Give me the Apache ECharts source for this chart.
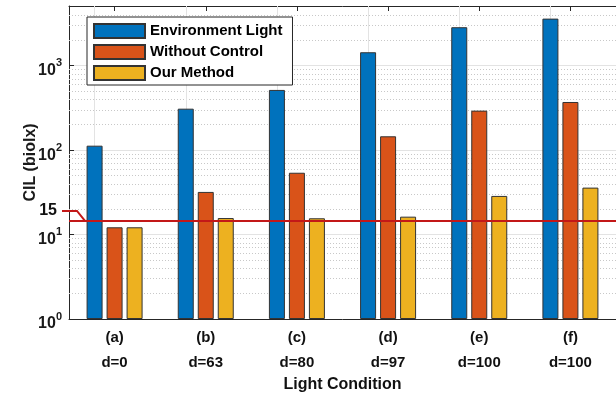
<!DOCTYPE html>
<html>
<head>
<meta charset="utf-8">
<script src="https://cdn.jsdelivr.net/npm/echarts@6/dist/echarts.min.js"></script>
<style>
html,body{margin:0;padding:0;background:#fff;}
#chart{width:616px;height:404px;}
</style>
</head>
<body>
<div id="chart"></div>
<script>
// ---- data ----
const categories = ['(a)', '(b)', '(c)', '(d)', '(e)', '(f)'];
const distances = ['d=0', 'd=63', 'd=80', 'd=97', 'd=100', 'd=100'];
const seriesNames = ['Environment Light', 'Without Control', 'Our Method'];
const environmentLight = [113, 310, 517, 1445, 2860, 3615];
const withoutControl = [12.2, 32, 54, 146, 294, 372];
const ourMethod = [12.2, 15.7, 15.6, 16.3, 28.7, 36];
const thresholdValue = 14.5;
const thresholdLabel = '15';
const yMin = 1;
const yMax = 5100;
const minorGridValues = [2,3,4,5,6,7,8,9,20,30,40,50,60,70,80,90,200,300,400,500,600,700,800,900,2000,3000,4000];

const colors = ['#0072BD', '#D95319', '#EDB120'];
const FONT = '"Liberation Sans", Arial, Helvetica, sans-serif';
const xLabels = categories.map((c, i) => c + '\n' + distances[i]);

const chart = echarts.init(document.getElementById('chart'), null, {renderer: 'canvas'});

function barSeries(name, data, color) {
  return {
    name: name,
    type: 'bar',
    data: data,
    barWidth: 16,
    barGap: '25%',
    z: 3,
    itemStyle: {color: color, borderColor: '#333333', borderWidth: 1}
  };
}

const gridMarkLine = {
  silent: true,
  symbol: 'none',
  label: {show: false},
  animation: false,
  z: 1,
  data: minorGridValues.map(v => ({yAxis: v, lineStyle: {color: '#c8c8c8', width: 1, type: [1, 2]}}))
    .concat(categories.map((c, i) => ({xAxis: i, lineStyle: {color: '#e3e3e3', width: 1, type: 'solid'}})))
};

const firstBar = barSeries(seriesNames[0], environmentLight, colors[0]);
firstBar.markLine = gridMarkLine;

const option = {
  animation: false,
  backgroundColor: '#fff',
  textStyle: {fontFamily: FONT},
  grid: {left: 69, top: 6, width: 552, height: 313, containLabel: false},
  legend: {
    data: seriesNames,
    orient: 'vertical',
    left: 87,
    top: 17,
    itemWidth: 51,
    itemHeight: 14,
    itemGap: 5,
    padding: [6, 10, 4, 6],
    borderColor: '#262626',
    borderWidth: 1,
    backgroundColor: '#fff',
    icon: 'rect',
    selectedMode: false,
    z: 20,
    textStyle: {fontFamily: FONT, fontSize: 15, fontWeight: 'bold', color: '#000', lineHeight: 14}
  },
  xAxis: [{
    type: 'category',
    data: xLabels,
    position: 'bottom',
    axisLine: {show: true, lineStyle: {color: '#262626', width: 1}},
    axisTick: {show: true, inside: true, alignWithLabel: true, length: 5, lineStyle: {color: '#262626'}},
    axisLabel: {margin: 6, fontFamily: FONT, fontSize: 15, fontWeight: 'bold', color: '#111', lineHeight: 25},
    splitLine: {show: false},
    name: 'Light Condition',
    nameLocation: 'middle',
    nameGap: 58,
    nameMoveOverlap: false,
    nameTextStyle: {fontFamily: FONT, fontSize: 16, fontWeight: 'bold', color: '#111'}
  }, {
    type: 'category',
    data: xLabels,
    position: 'top',
    axisLine: {show: true, lineStyle: {color: '#262626', width: 1}},
    axisTick: {show: true, inside: true, alignWithLabel: true, length: 5, lineStyle: {color: '#262626'}},
    axisLabel: {show: false},
    splitLine: {show: false}
  }],
  yAxis: {
    type: 'log',
    logBase: 10,
    min: yMin,
    max: yMax,
    axisLine: {show: true, lineStyle: {color: '#262626', width: 1}},
    axisTick: {show: true, inside: true, length: 5, lineStyle: {color: '#262626'}},
    axisLabel: {
      margin: 7,
      padding: [10, 0, 0, 0],
      showMaxLabel: false,
      formatter: function (v) {
        const e = Math.log10(v);
        if (Math.abs(e - Math.round(e)) > 1e-6) return '';
        return '{b|10}{s|' + Math.round(e) + '}';
      },
      rich: {
        b: {fontFamily: FONT, fontSize: 16, fontWeight: 'bold', color: '#1a1a1a', lineHeight: 16, verticalAlign: 'bottom'},
        s: {fontFamily: FONT, fontSize: 11, fontWeight: 'bold', color: '#1a1a1a', lineHeight: 11, verticalAlign: 'bottom', padding: [0, 0, 10, 0]}
      }
    },
    splitLine: {show: true, lineStyle: {color: '#e3e3e3', width: 1}},
    name: 'CIL (biolx)',
    nameLocation: 'middle',
    nameGap: 30,
    nameMoveOverlap: false,
    nameTextStyle: {fontFamily: FONT, fontSize: 16, fontWeight: 'bold', color: '#1a1a1a'}
  },
  series: [
    firstBar,
    barSeries(seriesNames[1], withoutControl, colors[1]),
    barSeries(seriesNames[2], ourMethod, colors[2]),
    {
      name: 'threshold',
      type: 'line',
      data: [],
      z: 10,
      silent: true,
      markLine: {
        silent: true,
        symbol: 'none',
        label: {show: false},
        animation: false,
        z: 10,
        data: [{yAxis: thresholdValue, lineStyle: {color: '#C31818', width: 2, type: 'solid'}}]
      }
    }
  ]
};

chart.setOption(option);

// threshold annotation connector and label, positioned via the axis scale
const yLine = chart.convertToPixel({yAxisIndex: 0}, thresholdValue);
const gridLeft = 69;
chart.setOption({
  graphic: [
    {
      type: 'polyline',
      silent: true,
      z: 30,
      shape: {points: [[gridLeft - 7, yLine - 10], [gridLeft + 8, yLine - 10], [gridLeft + 16, yLine]]},
      style: {stroke: '#C31818', lineWidth: 2, fill: null}
    },
    {
      type: 'text',
      silent: true,
      z: 30,
      x: gridLeft - 12,
      y: yLine - 10,
      style: {text: thresholdLabel, fontFamily: FONT, fontSize: 16, fontWeight: 'bold', fill: '#111', align: 'right', verticalAlign: 'middle'}
    }
  ]
});
</script>
</body>
</html>
